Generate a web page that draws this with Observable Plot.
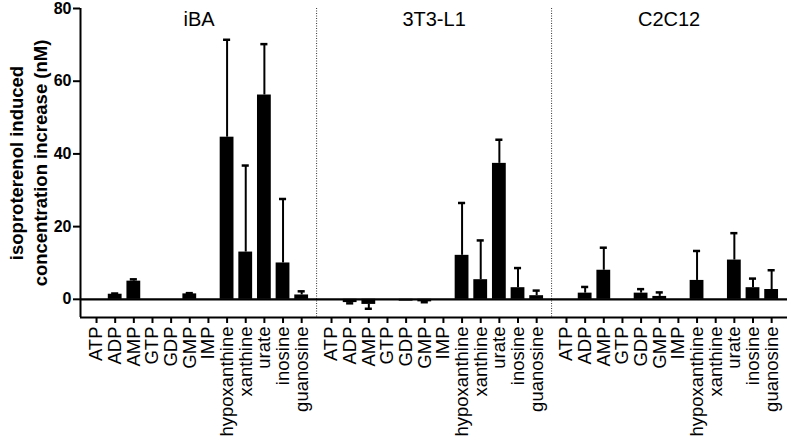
<!DOCTYPE html>
<html>
<head>
<meta charset="utf-8">
<script src="https://cdn.jsdelivr.net/npm/d3@7"></script>
<script src="https://cdn.jsdelivr.net/npm/@observablehq/plot@0.6"></script>
<style>
  html, body { margin: 0; padding: 0; background: #fff; }
  #chart svg { display: block; overflow: visible; font-family: "Liberation Sans", Arial, sans-serif; }
</style>
</head>
<body>
<div id="chart"></div>
<script>
// ---- data ----
const categories = ["ATP","ADP","AMP","GTP","GDP","GMP","IMP","hypoxanthine","xanthine","urate","inosine","guanosine"];
const groups = ["iBA", "3T3-L1", "C2C12"];
const iBA_mean = [0, 1.4, 5.0, 0, 0, 1.5, 0, 44.6, 13.0, 56.2, 10.0, 1.2];
const iBA_sem  = [0, 0.2, 0.5, 0, 0, 0.2, 0, 26.8, 23.8, 14.0, 17.6, 1.0];
const l1_mean  = [0, -0.9, -1.4, 0, -0.5, -0.7, 0, 12.1, 5.4, 37.4, 3.2, 1.0];
const l1_sem   = [0, 0.2, 1.2, 0, 0, 0.1, 0, 14.4, 10.8, 6.5, 5.4, 1.4];
const c2_mean  = [0, 1.7, 8.0, 0, 1.7, 0.8, 0, 5.2, 0, 10.8, 3.2, 2.7];
const c2_sem   = [0, 1.7, 6.2, 0, 1.1, 1.1, 0, 8.1, 0, 7.4, 2.5, 5.3];
const yTicks = [0, 20, 40, 60, 80];
const yLabel = "isoproterenol induced\nconcentration increase (nM)";

// ---- layout helpers (scale domains, group spacing) ----
const groupPeriod = 12.6;   // category slots per group incl. gap
const barHalf = 0.37;
const capHalf = 0.19;
const xDomain = [-0.86, 37.05];
const yDomain = [-5, 80];

const means = [iBA_mean, l1_mean, c2_mean];
const sems = [iBA_sem, l1_sem, c2_sem];
const data = [];
groups.forEach((g, gi) => {
  categories.forEach((c, ci) => {
    const v = means[gi][ci], e = sems[gi][ci];
    data.push({group: g, cat: c, pos: gi * groupPeriod + ci, value: v, err: e,
               end: v + (v < 0 ? -e : e)});
  });
});
const tickPos = data.map(d => d.pos);
const labelOf = new Map(data.map(d => [d.pos, d.cat]));
const seps = groups.slice(1).map((g, i) => i * groupPeriod + (categories.length - 1 + groupPeriod) / 2);
const titles = groups.map((g, gi) => ({g, pos: gi * groupPeriod + (categories.length - 1) / 2}));
const errData = data.filter(d => d.err > 0);

const chart = Plot.plot({
  width: 790,
  height: 437,
  marginLeft: 80,
  marginRight: 3,
  marginTop: 8,
  marginBottom: 120,
  style: {fontFamily: '"Liberation Sans", Arial, sans-serif', color: "#000", background: "#fff", overflow: "visible"},
  x: {type: "linear", domain: xDomain},
  y: {domain: yDomain},
  marks: [
    Plot.ruleX(seps, {stroke: "#333", strokeWidth: 1, strokeDasharray: "1,1.5"}),
    Plot.rectY(data, {x1: d => d.pos - barHalf, x2: d => d.pos + barHalf, y1: 0, y2: "value", fill: "#000"}),
    Plot.ruleX(errData, {x: "pos", y1: "value", y2: "end", stroke: "#000", strokeWidth: 2}),
    Plot.ruleY(errData, {y: "end", x1: d => d.pos - capHalf, x2: d => d.pos + capHalf, stroke: "#000", strokeWidth: 2.5}),
    Plot.ruleY([0], {stroke: "#000", strokeWidth: 2.2}),
    Plot.ruleX([xDomain[0]], {stroke: "#000", strokeWidth: 2}),
    Plot.ruleY([yDomain[0]], {stroke: "#000", strokeWidth: 2}),
    Plot.axisY(yTicks, {tickSize: 7, strokeWidth: 2, tickPadding: 2, fontSize: 16, fontWeight: "bold", label: null}),
    Plot.axisX(tickPos, {tickSize: 6, strokeWidth: 2, tickPadding: 3, fontSize: 18.5, tickRotate: -90,
                         tickFormat: d => labelOf.get(d), label: null}),
    Plot.text([yLabel], {frameAnchor: "left", rotate: -90, dx: -53, textAnchor: "middle", lineAnchor: "middle",
                         lineHeight: 1.27, fontSize: 18.5, fontWeight: "bold", fill: "#000"}),
    Plot.text(titles, {x: "pos", text: "g", frameAnchor: "top", lineAnchor: "top", dy: 3, fontSize: 20, fill: "#000"})
  ]
});
document.getElementById("chart").appendChild(chart);
</script>
</body>
</html>
